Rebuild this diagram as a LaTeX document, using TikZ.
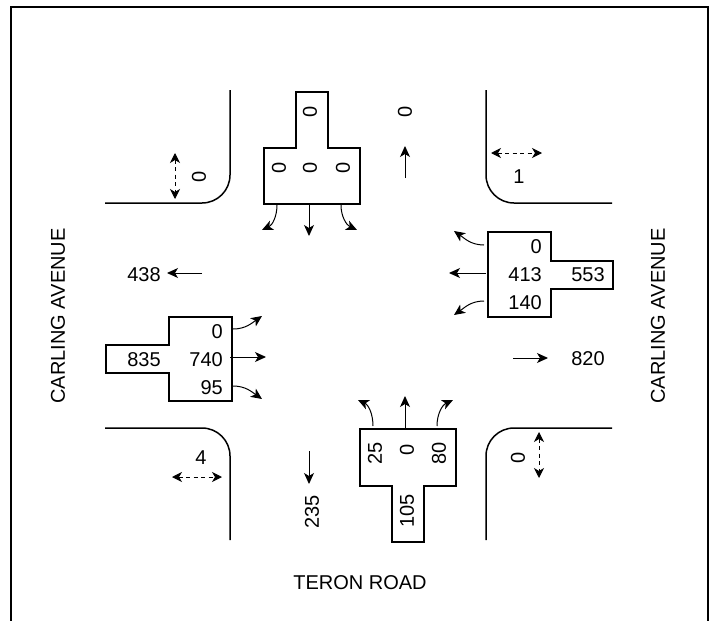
\documentclass[tikz,border=0pt]{standalone}
\usepackage{fontspec}
\setmainfont{Liberation Sans}
\usetikzlibrary{arrows.meta}

\tikzset{
  curb/.style={line width=1.5pt, rounded corners=28pt},
  island/.style={line width=1.7pt},
  flow/.style={line width=1pt, -{Stealth[length=11pt,width=10pt,inset=3pt]}},
  walk/.style={line width=1pt, dash pattern=on 4pt off 3.5pt, {Stealth[length=10pt,width=10pt,inset=3pt]}-{Stealth[length=10pt,width=10pt,inset=3pt]}},
  lbl/.style={inner sep=0pt, font=\fontsize{20}{24}\selectfont},
  rlbl/.style={lbl, anchor=east},
  vlbl/.style={lbl, rotate=90}
}

\begin{document}
\begin{tikzpicture}[x=1pt,y=-1pt]
  \useasboundingbox (0,0) rectangle (716,621);

  \draw[line width=2pt] (11,621) -- (11,7) -- (708,7) -- (708,621);

  % curbs
  \coordinate (tlA) at (230,90);
  \coordinate (tlB) at (230,203);
  \coordinate (tlC) at (105,203);
  \draw[curb] (tlA) -- (tlB) -- (tlC);
  \coordinate (trA) at (486,90);
  \coordinate (trB) at (486,203);
  \coordinate (trC) at (612,203);
  \draw[curb] (trA) -- (trB) -- (trC);
  \coordinate (blA) at (105,428);
  \coordinate (blB) at (230,428);
  \coordinate (blC) at (230,540);
  \draw[curb] (blA) -- (blB) -- (blC);
  \coordinate (brA) at (612,428);
  \coordinate (brB) at (486,428);
  \coordinate (brC) at (486,540);
  \draw[curb] (brA) -- (brB) -- (brC);

  % islands
  \draw[island] (296,92) -- (328,92) -- (328,148) -- (360,148) -- (360,204) -- (264,204) -- (264,148) -- (296,148) -- cycle;
  \draw[island] (488,232) -- (551,232) -- (551,261) -- (613,261) -- (613,289) -- (551,289) -- (551,317) -- (488,317) -- cycle;
  \draw[island] (169,317) -- (232,317) -- (232,401) -- (169,401) -- (169,373) -- (106,373) -- (106,345) -- (169,345) -- cycle;
  \draw[island] (360,429) -- (456,429) -- (456,486) -- (424,486) -- (424,542) -- (392,542) -- (392,486) -- (360,486) -- cycle;

  % north
  \node[vlbl] (nIn) at (310,112) {0};
  \node[vlbl] (nL) at (279,168) {0};
  \node[vlbl] (nT) at (310,168) {0};
  \node[vlbl] (nR) at (343,168) {0};
  \coordinate (nLa) at (277,205);
  \coordinate (nLb) at (262,230);
  \coordinate (nTa) at (309,204);
  \coordinate (nTb) at (309,236);
  \coordinate (nRa) at (341,205);
  \coordinate (nRb) at (357,230);
  \draw[flow] (nLa) to[out=-90,in=25] (nLb);
  \draw[flow] (nTa) -- (nTb);
  \draw[flow] (nRa) to[out=-90,in=155] (nRb);
  \node[vlbl] (nOut) at (405,112) {0};
  \coordinate (nOa) at (405,178);
  \coordinate (nOb) at (405,146);
  \draw[flow] (nOa) -- (nOb);

  % east
  \node[rlbl] (eL) at (542,247) {0};
  \node[rlbl] (eT) at (542,275) {413};
  \node[rlbl] (eR) at (542,303) {140};
  \node[lbl] (eIn) at (588,275) {553};
  \coordinate (eLa) at (484,245);
  \coordinate (eLb) at (454,231);
  \coordinate (eTa) at (486,273);
  \coordinate (eTb) at (449,273);
  \coordinate (eRa) at (484,301);
  \coordinate (eRb) at (454,315);
  \draw[flow] (eLa) to[out=180,in=-35] (eLb);
  \draw[flow] (eTa) -- (eTb);
  \draw[flow] (eRa) to[out=180,in=35] (eRb);
  \node[lbl] (eOut) at (588,359) {820};
  \coordinate (eOa) at (513,358);
  \coordinate (eOb) at (548,358);
  \draw[flow] (eOa) -- (eOb);

  % west
  \node[rlbl] (wL) at (223,332) {0};
  \node[rlbl] (wT) at (223,360) {740};
  \node[rlbl] (wR) at (223,388) {95};
  \node[lbl] (wIn) at (144,360) {835};
  \coordinate (wLa) at (233,329);
  \coordinate (wLb) at (262,316);
  \coordinate (wTa) at (230,357);
  \coordinate (wTb) at (266,357);
  \coordinate (wRa) at (233,386);
  \coordinate (wRb) at (262,399);
  \draw[flow] (wLa) to[out=0,in=-145] (wLb);
  \draw[flow] (wTa) -- (wTb);
  \draw[flow] (wRa) to[out=0,in=145] (wRb);
  \node[lbl] (wOut) at (144,275) {438};
  \coordinate (wOa) at (202,273);
  \coordinate (wOb) at (167,273);
  \draw[flow] (wOa) -- (wOb);

  % south
  \node[vlbl] (sL) at (375,453) {25};
  \node[vlbl] (sT) at (407,450) {0};
  \node[vlbl] (sR) at (439,453) {80};
  \node[vlbl] (sIn) at (407,511) {105};
  \coordinate (sLa) at (373,426);
  \coordinate (sLb) at (358,400);
  \coordinate (sTa) at (405,428);
  \coordinate (sTb) at (405,396);
  \coordinate (sRa) at (437,426);
  \coordinate (sRb) at (453,400);
  \draw[flow] (sLa) to[out=90,in=-25] (sLb);
  \draw[flow] (sTa) -- (sTb);
  \draw[flow] (sRa) to[out=90,in=-155] (sRb);
  \node[vlbl] (sOut) at (312,512) {235};
  \coordinate (sOa) at (309,451);
  \coordinate (sOb) at (309,484);
  \draw[flow] (sOa) -- (sOb);

  % pedestrians
  \node[vlbl] (pedNW) at (199,177) {0};
  \coordinate (pNWa) at (175,153);
  \coordinate (pNWb) at (175,199);
  \draw[walk] (pNWa) -- (pNWb);
  \node[lbl] (pedNE) at (519,177) {1};
  \coordinate (pNEa) at (491,153);
  \coordinate (pNEb) at (542,153);
  \draw[walk] (pNEa) -- (pNEb);
  \node[lbl] (pedSW) at (201,458) {4};
  \coordinate (pSWa) at (172,477);
  \coordinate (pSWb) at (222,477);
  \draw[walk] (pSWa) -- (pSWb);
  \node[vlbl] (pedSE) at (518,458) {0};
  \coordinate (pSEa) at (539,432);
  \coordinate (pSEb) at (539,478);
  \draw[walk] (pSEa) -- (pSEb);

  % road names
  \node[vlbl] (roadW) at (58,316) {CARLING AVENUE};
  \node[vlbl] (roadE) at (658,316) {CARLING AVENUE};
  \node[lbl] (roadS) at (360,583) {TERON ROAD};
\end{tikzpicture}
\end{document}
